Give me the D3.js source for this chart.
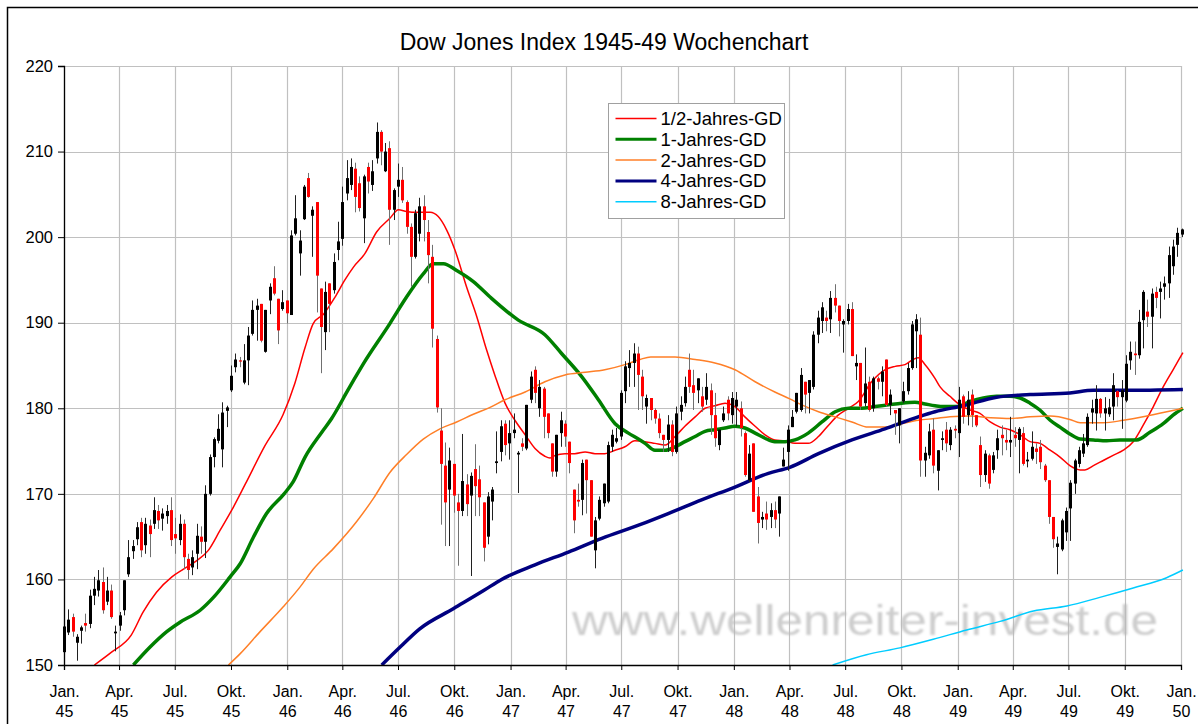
<!DOCTYPE html>
<html>
<head>
<meta charset="utf-8">
<script src="https://cdn.jsdelivr.net/npm/d3@7"></script>
<style>
  body { margin: 0; background: #fff; }
  svg { display: block; font-family: "Liberation Sans", Arial, sans-serif; }
</style>
</head>
<body>
<svg id="chart" width="1198" height="724"></svg>
<script>
// weekly candles [open, high, low, close], one row per week starting Mon 1 Jan 1945
const ohlc1945 = [
  [151.5,155.0,151.3,154.5],[153.8,156.5,153.5,155.3],[155.6,156.0,153.3,153.9],[152.6,153.6,150.5,153.3],
  [154.0,154.6,152.5,154.4],[154.9,156.0,153.9,154.6],[154.8,158.8,154.3,158.1],[158.1,160.3,157.0,158.9],
  [158.7,161.1,158.0,159.9],[159.7,161.4,156.0,156.4],[157.4,160.3,157.0,158.7],[158.7,159.4,155.4,155.6],
  [153.7,154.6,151.6,153.9],[154.6,156.2,154.0,155.8],[156.4,159.9,155.8,159.9],[160.6,164.6,160.3,162.6],
  [163.3,164.6,162.4,163.9],[164.7,166.7,164.0,166.1],[166.7,167.2,162.6,163.4],[164.0,167.2,163.0,166.5],
  [166.3,167.0,162.6,165.3],[166.5,169.6,165.9,168.1],[168.0,168.7,165.9,166.9],[167.1,168.3,165.7,167.7],
  [167.4,168.7,166.5,168.0],[168.1,169.6,163.9,164.6],[165.3,167.2,163.0,164.8],[164.6,167.6,164.0,166.5],
  [166.5,167.0,161.2,162.6],[162.4,163.0,160.0,161.1],[161.4,163.4,160.5,162.6],[163.0,166.5,161.2,165.1],
  [165.0,166.2,163.0,164.4],[164.4,171.0,162.5,170.0],[170.0,174.6,169.8,174.3],[174.3,176.6,173.1,176.4],
  [176.2,179.3,175.9,177.6],[175.2,180.7,173.1,179.5],[179.7,180.3,177.8,180.1],[182.1,185.0,181.9,183.8],
  [184.8,186.4,184.2,185.7],[185.6,186.0,184.8,185.5],[183.0,187.5,182.8,185.6],[185.6,189.5,182.7,188.5],
  [188.7,192.6,188.5,191.5],[191.5,192.8,187.9,192.0],[192.2,192.2,187.7,187.9],[186.6,191.5,186.5,191.5],
  [192.6,194.6,191.0,194.2],[195.2,196.6,193.2,193.4],[192.8,192.8,187.5,189.1],[191.6,193.8,191.4,192.4],
  [192.6,192.6,189.9,191.1]
];
const ohlc1946 = [
  [190.9,200.8,190.9,200.2],[200.4,204.9,200.2,202.2],[198.1,200.8,195.5,199.6],[202.1,206.1,202.0,205.9],
  [206.9,207.5,204.6,204.7],[202.5,203.6,197.7,203.2],[204.1,204.1,191.2,195.5],[194.0,194.0,184.1,189.5],
  [188.9,194.8,186.8,193.6],[194.6,194.6,188.9,192.2],[193.8,198.1,193.4,197.1],[198.5,201.8,197.3,199.5],
  [199.8,205.9,199.0,204.1],[205.1,209.0,204.3,206.9],[206.1,209.2,205.5,208.2],[208.0,208.7,202.9,204.7],
  [206.3,207.1,203.0,203.4],[202.2,207.3,199.3,207.1],[208.2,208.7,205.1,206.5],[206.1,209.0,205.4,207.7],
  [209.2,213.4,208.6,212.3],[212.3,212.5,208.4,210.0],[207.7,211.0,207.6,210.0],[210.4,211.2,199.1,203.2],
  [203.2,205.7,202.0,205.5],[205.9,208.6,204.7,206.7],[206.7,208.2,204.0,204.3],[204.1,204.3,200.4,201.2],
  [201.2,201.6,194.2,197.7],[197.7,203.2,197.5,202.8],[200.4,204.6,199.5,203.6],[203.6,204.9,199.5,202.0],
  [200.6,202.0,194.6,197.9],[197.7,199.1,187.1,189.3],[188.1,188.5,179.5,180.1],[177.4,180.0,166.4,173.5],
  [173.3,176.0,163.9,169.0],[170.5,175.4,163.9,173.9],[173.5,173.5,167.8,169.8],[169.0,170.0,161.6,168.0],
  [168.0,177.0,167.4,171.5],[171.1,172.3,167.4,168.8],[169.8,172.5,160.4,172.1],[172.9,175.8,167.4,170.9],
  [171.7,173.3,167.4,169.6],[169.0,169.0,162.1,163.7],[165.0,170.2,164.1,169.7],[169.1,170.8,166.9,170.5],
  [173.6,177.3,172.4,173.8],[174.9,178.6,173.8,177.9],[178.2,178.6,174.5,175.7],[175.9,178.6,174.0,177.1]
];
const ohlc1947 = [
  [177.1,179.4,176.5,177.5],[174.6,175.0,170.1,174.8],[175.9,176.5,175.0,175.5],[175.3,180.4,175.1,180.4],
  [181.0,184.3,180.6,183.7],[184.5,184.9,180.6,181.8],[180.0,183.3,179.0,182.5],[182.3,182.5,176.5,179.0],
  [179.4,179.4,176.5,177.1],[175.9,175.9,172.0,172.6],[172.6,176.9,172.0,176.9],[177.1,179.6,175.5,178.6],
  [178.2,178.6,175.5,176.7],[176.1,176.1,172.4,173.6],[170.5,170.5,165.4,166.9],[169.3,171.2,168.5,169.1],
  [169.3,174.0,167.5,173.6],[174.0,174.0,167.7,171.6],[171.6,171.6,165.0,165.0],[163.4,167.3,161.3,166.9],
  [167.1,169.7,166.9,169.3],[168.9,171.2,168.5,171.2],[169.1,176.1,168.9,175.7],[175.5,177.5,174.9,176.9],
  [176.1,177.7,175.9,176.5],[176.7,182.1,176.3,181.8],[182.0,185.5,180.6,184.9],[184.7,186.8,182.5,185.3],
  [185.3,187.6,182.5,186.4],[186.4,187.2,179.8,183.9],[183.7,184.5,179.8,181.4],[180.2,181.6,178.2,181.2],
  [181.2,181.2,178.6,179.8],[179.8,180.0,178.2,178.8],[178.8,179.4,176.5,177.1],[176.9,176.9,174.9,176.3],
  [176.3,179.2,174.9,178.1],[178.1,178.6,174.4,174.9],[174.9,180.2,174.7,179.4],[179.6,181.4,178.6,180.4],
  [180.6,183.7,180.2,182.5],[184.5,186.4,181.8,182.5],[182.7,184.5,179.8,181.8],[182.1,183.5,180.6,183.5],
  [181.4,182.5,179.6,180.2],[181.0,184.1,180.4,182.5],[182.1,182.9,176.9,179.2],[179.2,181.8,175.5,176.5],
  [175.7,177.5,175.1,177.5],[178.6,180.2,178.4,179.4],[181.0,181.4,178.6,179.4],[179.2,181.9,178.2,181.2]
];
const ohlc1948 = [
  [180.2,181.9,177.9,181.0],[180.0,180.8,176.7,177.7],[177.1,177.3,172.0,172.2],[171.6,175.7,171.4,174.7],
  [175.9,175.9,167.9,167.9],[169.7,170.8,164.2,166.6],[167.0,167.9,166.0,167.3],[167.7,169.1,165.8,167.0],
  [167.3,168.9,166.0,168.1],[168.1,169.1,166.0,167.0],[167.7,169.7,165.0,169.7],[173.2,175.4,173.2,174.0],
  [174.9,178.0,172.7,177.5],[177.8,179.8,177.8,179.0],[179.6,181.8,179.4,181.8],[179.8,184.7,179.6,183.9],
  [183.1,183.1,179.4,181.6],[181.8,183.3,179.4,183.3],[182.5,189.0,182.2,188.6],[188.6,191.4,187.6,190.6],
  [190.2,192.4,188.8,191.8],[190.6,191.4,189.0,190.2],[190.4,193.7,188.8,192.9],[192.9,194.5,191.2,192.0],
  [192.0,192.0,188.4,190.2],[189.8,190.4,186.5,190.2],[190.2,192.2,189.8,191.6],[191.6,192.4,186.1,186.1],
  [184.9,186.3,183.3,185.3],[185.3,185.3,179.8,180.2],[180.6,187.1,180.2,182.9],[183.1,183.7,179.6,179.8],
  [180.0,183.7,179.6,183.5],[183.5,183.7,182.2,183.1],[183.1,184.9,181.4,184.3],[185.7,185.7,180.2,180.4],
  [180.4,182.2,179.2,181.6],[179.8,179.8,176.9,179.4],[178.0,180.0,175.9,180.0],[180.8,183.1,180.6,182.0],
  [182.0,185.3,181.6,184.7],[184.7,190.2,184.5,189.8],[189.0,191.0,184.7,190.4],[188.6,190.6,172.0,173.9],
  [173.9,175.5,172.0,174.8],[174.5,178.2,174.1,177.3],[177.5,178.8,172.4,173.3],[172.7,175.1,170.4,175.1],
  [176.3,177.3,175.1,176.5],[177.5,178.4,174.9,175.9],[175.7,177.8,175.1,177.5],[177.6,178.0,176.5,177.4]
];
const ohlc1949 = [
  [177.1,182.5,174.3,181.0],[181.4,181.6,178.2,179.0],[179.2,182.0,178.0,181.0],[181.6,182.2,177.8,179.2],
  [179.2,179.2,177.8,178.0],[175.7,176.7,170.8,172.2],[172.2,175.1,171.4,174.7],[174.5,174.7,170.6,171.2],
  [172.8,174.9,172.4,174.5],[175.1,177.5,174.1,176.5],[176.9,178.0,174.5,176.5],[176.3,177.5,175.1,176.0],
  [176.0,179.0,174.3,176.3],[176.9,177.8,175.5,176.5],[176.3,177.8,172.4,177.6],[177.1,177.8,173.3,173.5],
  [173.8,174.9,173.1,174.0],[174.1,177.3,173.9,175.5],[175.3,175.9,173.5,174.9],[175.5,176.3,172.9,173.7],
  [173.3,173.5,171.4,171.6],[171.6,171.6,166.5,167.3],[167.3,167.3,163.7,164.7],[163.8,165.0,160.6,164.2],
  [163.5,167.1,163.3,166.9],[165.5,168.4,164.5,168.0],[168.3,171.6,164.5,171.3],[171.2,174.1,170.0,173.9],
  [173.5,175.5,173.1,175.1],[174.7,177.0,174.3,175.9],[175.7,179.4,175.5,179.0],[179.5,181.0,178.2,180.0],
  [179.4,182.7,177.4,181.1],[181.1,181.2,178.9,179.4],[179.4,181.3,177.4,180.0],[179.3,181.1,179.0,180.1],
  [180.2,184.1,178.6,182.7],[182.0,182.1,180.2,181.3],[181.3,183.3,177.6,182.1],[180.9,186.2,180.7,185.2],
  [185.6,187.8,184.5,186.6],[186.4,187.8,183.9,186.2],[186.2,191.5,185.8,190.1],[190.3,193.8,187.0,193.6],
  [191.3,192.7,189.5,190.7],[190.7,194.0,187.0,193.4],[193.6,194.2,191.7,192.9],[193.6,194.8,190.5,194.0],
  [194.2,195.4,192.7,194.6],[194.6,198.9,192.9,197.9],[196.6,199.7,195.6,198.9],[199.1,201.1,197.7,200.5],
  [200.3,201.0,200.0,200.9]
];

// moving averages: [week index since 1 Jan 1945, value]
const gd26 = [
  [7.1,150.0],[11.1,151.5],[15.7,153.5],[18.5,156.2],[21.6,158.5],[25.2,160.3],[27.9,161.2],[31,162.2],
  [33.7,163.4],[36.4,165.7],[39.5,168.4],[42.3,171.1],[46.9,175.6],[51.2,179.3],[53.9,182.9],[56.3,187.1],
  [58.2,189.9],[60.6,191.0],[63.3,193.0],[65.6,195.0],[67.6,196.5],[70.3,198.1],[73,200.6],[76.1,202.2],
  [78.1,203.2],[80,203.0],[82.4,202.9],[85.5,202.9],[87.4,202.4],[89.4,200.8],[91.3,198.5],[94,194.2],
  [96.4,190.7],[98.7,186.8],[100.6,183.9],[103,180.6],[105.3,178.6],[107.7,176.9],[110,175.3],[112.3,174.4],
  [113.5,174.2],[114.7,174.5],[117,174.7],[119.3,174.7],[121.7,174.9],[124,174.7],[126.3,174.7],[128.7,175.1],
  [131,175.5],[133.3,176.2],[135.7,176.1],[138,175.9],[140.4,175.7],[142.7,176.7],[145,177.9],[147.4,179.0],
  [149.7,180.0],[152,180.3],[154.4,180.6],[156.7,180.2],[159,179.0],[161.4,177.9],[163.7,176.9],[166,176.3],
  [168.4,176.2],[170.7,175.9],[173.8,175.9],[176.2,176.7],[178.5,178.0],[180.8,179.2],[183.2,180.0],[185.5,180.8],
  [188.6,183.1],[191.7,184.5],[194.1,184.9],[196.4,185.1],[198.3,185.7],[199.5,185.9],[201.1,185.1],[203.4,183.5],
  [204.6,182.5],[206.9,181.4],[209.2,180.4],[211.6,179.8],[213.9,179.4],[216.3,178.4],[218.6,177.8],[220.9,177.5],
  [223.3,176.9],[225.6,176.1],[227.9,175.9],[230.3,175.1],[232.6,174.3],[234.9,173.3],[237.3,172.8],[238.4,172.8],
  [240.4,173.3],[242.7,173.9],[245,174.5],[247.4,175.1],[249.7,176.1],[252,178.0],[254.4,180.2],[256.7,182.5],
  [259,184.5],[261.3,186.5]
];
const gd52 = [
  [16.2,150.0],[20.1,152.1],[24,153.9],[27.1,155.0],[31.8,156.4],[34.9,157.9],[38.8,160.3],[41.1,161.8],
  [44.2,164.9],[47.3,167.7],[51.4,170.0],[53.5,171.4],[56.3,174.3],[60.2,177.2],[62.5,178.8],[64.5,180.5],
  [65.6,181.5],[69.9,185.2],[76.1,189.9],[80,193.0],[83.9,195.7],[86.2,196.9],[88.6,196.9],[91.7,196.1],
  [95.6,194.8],[99.5,193.0],[106.1,190.3],[112.3,188.6],[116.2,186.4],[120.9,183.7],[124.8,181.0],[128.7,178.2],
  [131.8,177.1],[134.5,176.3],[135.7,175.9],[138,175.1],[140.4,175.1],[142.7,175.5],[145,176.1],[147.4,176.7],
  [149.7,177.3],[152,177.5],[154.4,177.7],[156.7,177.9],[159,177.7],[161.4,177.1],[163.7,176.5],[166,176.1],
  [168.4,176.1],[170.7,176.3],[173.8,177.1],[177,178.4],[180.1,179.6],[183.2,180.0],[186.3,180.0],[189.4,180.2],
  [192.5,180.4],[195.6,180.6],[198.7,180.7],[201.1,180.5],[203.4,180.3],[205.3,180.2],[208.4,180.2],[211.6,180.8],
  [214.7,181.2],[217.8,181.4],[220.9,181.4],[223.3,181.2],[225.6,180.6],[227.9,179.8],[230.3,178.6],[232.6,177.8],
  [234.9,177.0],[237.3,176.4],[240.4,176.3],[243.5,176.2],[246.6,176.3],[250.5,176.3],[253.6,177.2],[256.7,178.2],
  [259,179.2],[261.3,180.0]
];
const gd104 = [
  [38.4,150.0],[41.1,151.3],[45.8,153.9],[51.2,156.8],[55.1,159.1],[58.2,161.2],[62.9,163.6],[68.4,166.8],
  [72.3,169.5],[76.1,172.5],[80,174.6],[83.9,176.4],[87.8,177.6],[91.7,178.4],[95.6,179.3],[99.5,180.1],
  [103,181.0],[107.7,181.9],[112.3,183.1],[117,183.9],[121.7,184.2],[126.3,184.5],[131,185.1],[134.5,185.7],
  [137,186.0],[142.7,186.0],[147.4,185.7],[152,185.3],[156.7,184.5],[161.4,183.1],[166,181.9],[169.5,181.1],
  [172.3,180.4],[176.2,179.6],[180.1,179.0],[184,178.4],[187.8,177.8],[191.7,177.8],[195.6,178.2],[199.5,178.6],
  [203.4,178.8],[206.9,179.0],[211.6,179.1],[216.3,178.9],[220.9,178.8],[225.6,179.0],[230.3,179.1],[234.9,178.7],
  [237.3,178.3],[242.7,178.3],[247.4,178.6],[252,179.0],[256.7,179.5],[261.3,180.0]
];
const gd208 = [
  [74.2,150.0],[78.5,152.1],[83,154.2],[91,156.6],[98,158.7],[102.2,160.0],[110,161.7],[117.8,163.2],
  [125.6,164.8],[134.5,166.4],[141.1,167.7],[148.9,169.3],[156.7,170.8],[164.5,172.4],[169.5,173.1],[176.2,174.7],
  [184,176.3],[191.7,177.6],[199.5,179.0],[203.4,179.6],[210,180.3],[217.8,181.3],[225.6,181.6],[234.9,181.8],
  [240.4,182.1],[248.2,182.1],[261.3,182.2]
];
const gd416 = [
  [179.5,150.0],[187.4,151.2],[195.2,152.0],[203,153.0],[210.8,154.1],[218.6,155.1],[226.4,156.3],[234.2,156.9],
  [241.9,157.9],[249.7,159.0],[257.5,160.2],[261.3,161.1]
];

const seriesNames = ["1/2-Jahres-GD", "1-Jahres-GD", "2-Jahres-GD", "4-Jahres-GD", "8-Jahres-GD"];
const seriesColors = ["#ff0000", "#008000", "#ff7f27", "#000080", "#00ccff"];
const seriesWidths = [1.5, 3.5, 1.5, 3.5, 1.5];
const seriesData = [gd26, gd52, gd104, gd208, gd416];

const monthLabels = ["Jan.", "Apr.", "Jul.", "Okt."];
const yTicks = [150, 160, 170, 180, 190, 200, 210, 220];
const titleText = "Dow Jones Index 1945-49 Wochenchart";
const watermark = "www.wellenreiter-invest.de";

const startDate = new Date(1945, 0, 1);
const weekDate = k => new Date(startDate.getTime() + k * 7 * 864e5);

const candles = [].concat(ohlc1945, ohlc1946, ohlc1947, ohlc1948, ohlc1949)
  .map((d, i) => ({ date: weekDate(i), open: d[0], high: d[1], low: d[2], close: d[3] }));

const svg = d3.select("#chart");
const margin = { top: 66, right: 17, bottom: 59, left: 64 };
const W = 1198, H = 724;

const x = d3.scaleTime()
  .domain([new Date(1945, 0, 1), new Date(1950, 0, 1)])
  .range([margin.left, W - margin.right]);
const y = d3.scaleLinear()
  .domain([150, 220])
  .range([H - margin.bottom, margin.top]);

const quarterTicks = d3.timeMonth.every(3).range(new Date(1945, 0, 1), new Date(1950, 0, 2));

// outer frame (runs off the picture at right and bottom)
svg.append("rect")
  .attr("x", 7.5).attr("y", 7.5)
  .attr("width", 1220).attr("height", 740)
  .attr("fill", "none").attr("stroke", "#000").attr("stroke-width", 1.5);

// title
svg.append("text")
  .attr("x", 604).attr("y", 50)
  .attr("text-anchor", "middle")
  .style("font-size", "23px")
  .text(titleText);

// grid
const grid = svg.append("g").attr("stroke", "#c0c0c0").attr("stroke-width", 1.2);
grid.selectAll(".hg").data(yTicks).enter().append("line")
  .attr("x1", x.range()[0]).attr("x2", x.range()[1])
  .attr("y1", d => Math.round(y(d)) + 0.5).attr("y2", d => Math.round(y(d)) + 0.5);
grid.selectAll(".vg").data(quarterTicks).enter().append("line")
  .attr("y1", y.range()[1]).attr("y2", y.range()[0])
  .attr("x1", d => Math.round(x(d)) + 0.5).attr("x2", d => Math.round(x(d)) + 0.5);

// watermark
const defs = svg.append("defs");
defs.append("filter").attr("id", "soft")
  .append("feGaussianBlur").attr("stdDeviation", 0.8);
svg.append("text")
  .attr("x", 572).attr("y", 635)
  .attr("filter", "url(#soft)")
  .attr("textLength", 586)
  .attr("lengthAdjust", "spacingAndGlyphs")
  .style("font-size", "42px")
  .attr("fill", "#b8b8b8").attr("fill-opacity", 0.7)
  .text(watermark);

// moving averages
const line = d3.line()
  .x(d => x(weekDate(d[0])))
  .y(d => y(d[1]))
  .curve(d3.curveMonotoneX);

defs.append("clipPath").attr("id", "plotClip")
  .append("rect")
  .attr("x", x.range()[0]).attr("y", y.range()[1])
  .attr("width", x.range()[1] - x.range()[0] + 3)
  .attr("height", y.range()[0] - y.range()[1]);

const maG = svg.append("g").attr("clip-path", "url(#plotClip)");
seriesData.forEach((data, i) => {
  maG.append("path")
    .datum(data)
    .attr("fill", "none")
    .attr("stroke", seriesColors[i])
    .attr("stroke-width", seriesWidths[i])
    .attr("stroke-linejoin", "round")
    .attr("d", line);
});

// candles
const bodyW = 3;
const cg = svg.append("g");
cg.selectAll(".wick").data(candles).enter().append("line")
  .attr("x1", d => Math.round(x(d.date)) + 0.5)
  .attr("x2", d => Math.round(x(d.date)) + 0.5)
  .attr("y1", d => y(d.high))
  .attr("y2", d => y(d.low))
  .attr("stroke", d => d.close >= d.open ? "#202020" : "#707070")
  .attr("stroke-width", 1);
cg.selectAll(".body").data(candles).enter().append("rect")
  .attr("x", d => Math.round(x(d.date)) - 1)
  .attr("width", bodyW)
  .attr("y", d => y(Math.max(d.open, d.close)))
  .attr("height", d => Math.max(1.2, Math.abs(y(d.open) - y(d.close))))
  .attr("fill", d => d.close >= d.open ? "#000" : "#ff0000");

// axes
const yAxis = svg.append("g")
  .attr("transform", `translate(${x.range()[0]},0)`)
  .call(d3.axisLeft(y).tickValues(yTicks).tickSize(6).tickPadding(5).tickFormat(d3.format("d")));
yAxis.select(".domain").attr("stroke", "#000").attr("stroke-width", 1.3);
yAxis.selectAll(".tick line").attr("stroke", "#000");
yAxis.selectAll(".tick text").style("font-size", "16.5px").attr("fill", "#000")
  .style("font-family", "'Liberation Sans', Arial, sans-serif");

const xAxis = svg.append("g")
  .attr("transform", `translate(0,${y.range()[0]})`)
  .call(d3.axisBottom(x).tickValues(quarterTicks).tickSize(5).tickFormat(""));
xAxis.select(".domain").attr("stroke", "#000").attr("stroke-width", 1.3);
xAxis.selectAll(".tick line").attr("stroke", "#000");
const tickLabel = xAxis.selectAll(".tick").append("text")
  .attr("fill", "#000")
  .attr("text-anchor", "middle")
  .style("font-size", "16px")
  .style("font-family", "'Liberation Sans', Arial, sans-serif");
tickLabel.append("tspan").attr("x", 0).attr("y", 32)
  .text(d => monthLabels[Math.floor(d.getMonth() / 3)]);
tickLabel.append("tspan").attr("x", 0).attr("y", 52)
  .text(d => d3.timeFormat("%y")(d));

// legend
const lg = svg.append("g").attr("transform", "translate(608.5,103.5)");
lg.append("rect")
  .attr("width", 176).attr("height", 115)
  .attr("fill", "#fff").attr("stroke", "#a0a0a0").attr("stroke-width", 1);
seriesNames.forEach((name, i) => {
  const ry = 15 + i * 20.8;
  lg.append("line")
    .attr("x1", 7).attr("x2", 48).attr("y1", ry).attr("y2", ry)
    .attr("stroke", seriesColors[i])
    .attr("stroke-width", Math.min(seriesWidths[i], 3));
  lg.append("text")
    .attr("x", 52).attr("y", ry + 6.5)
    .style("font-size", "18.5px")
    .text(name);
});
</script>
</body>
</html>
